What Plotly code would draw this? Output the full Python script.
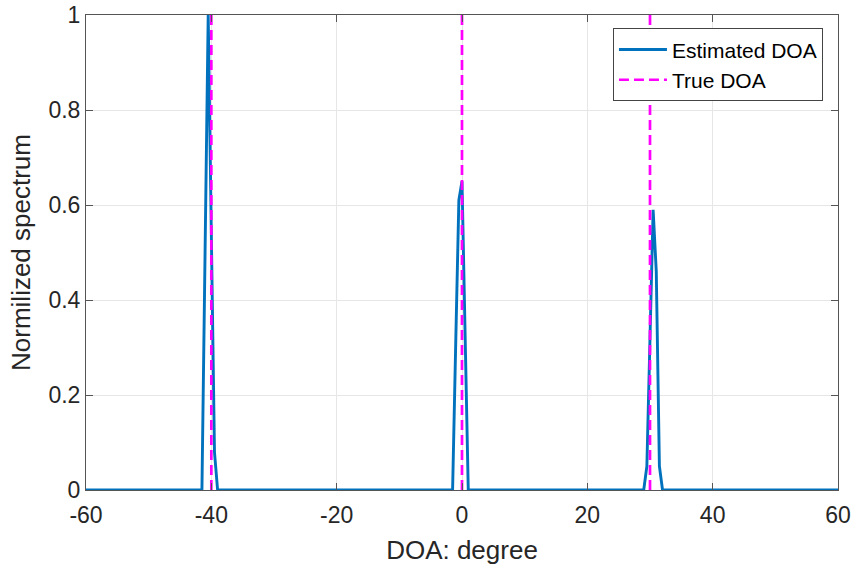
import plotly.graph_objects as go

# Estimated spectrum (key points; zero elsewhere)
doa_deg = [-60, -41.5, -41, -40.5, -40, -39.5, -39,
           -1.5, -1, -0.5, 0, 0.5, 1,
           29, 29.5, 30, 30.5, 31, 31.5, 32, 60]
spectrum = [0, 0, 0.5, 1.0, 0.54, 0.08, 0,
            0, 0.31, 0.61, 0.65, 0.32, 0,
            0, 0.05, 0.32, 0.59, 0.46, 0.05, 0, 0]

# True DOAs
true_doa = [-40, 0, 30]

x_ticks = [-60, -40, -20, 0, 20, 40, 60]
x_tick_text = ["-60", "-40", "-20", "0", "20", "40", "60"]
y_ticks = [0, 0.2, 0.4, 0.6, 0.8, 1]
y_tick_text = ["0", "0.2", "0.4", "0.6", "0.8", "1"]

tx, ty = [], []
for d in true_doa:
    tx += [d, d, None]
    ty += [0, 1.02, None]

fig = go.Figure()
fig.add_trace(go.Scatter(x=doa_deg, y=spectrum, mode="lines", name="Estimated DOA",
                         line=dict(color="#0072BD", width=2.9)))
fig.add_trace(go.Scatter(x=tx, y=ty, mode="lines", name="True DOA",
                         line=dict(color="#FF00FF", width=2.7, dash="10px,5px")))

font_family = "Liberation Sans, Arial, Helvetica, sans-serif"
axcol = "#555555"
fig.update_layout(
    width=856, height=569,
    margin=dict(l=86, r=18, t=15, b=79, autoexpand=False),
    paper_bgcolor="white", plot_bgcolor="white",
    font=dict(family=font_family, size=23, color="#262626"),
    showlegend=True,
    legend=dict(x=0.98, y=0.972, xanchor="right", yanchor="top",
                bgcolor="white", bordercolor="#444444", borderwidth=1,
                font=dict(size=21, color="#000000"), tracegroupgap=0,
                itemwidth=48),
    xaxis=dict(range=[-60, 60], tickvals=x_ticks, ticktext=x_tick_text,
               ticks="inside", ticklen=7, automargin=False, ticklabelstandoff=4,
               tickcolor=axcol, showline=True, linecolor=axcol, linewidth=1,
               mirror="ticks", showgrid=True, gridcolor="#e6e6e6", gridwidth=1,
               zeroline=False, tickfont=dict(size=23),
               title=dict(text="DOA: degree", font=dict(size=26), standoff=14)),
    yaxis=dict(range=[0, 1], tickvals=y_ticks, ticktext=y_tick_text, ticks="inside",
               ticklen=7, automargin=False,
               tickcolor=axcol, showline=True, linecolor=axcol, linewidth=1,
               mirror="ticks", showgrid=True, gridcolor="#e6e6e6", gridwidth=1,
               zeroline=False, tickfont=dict(size=23),
               title=dict(text="Normilized spectrum", font=dict(size=26), standoff=10)),
)

fig.write_html("out.html")
